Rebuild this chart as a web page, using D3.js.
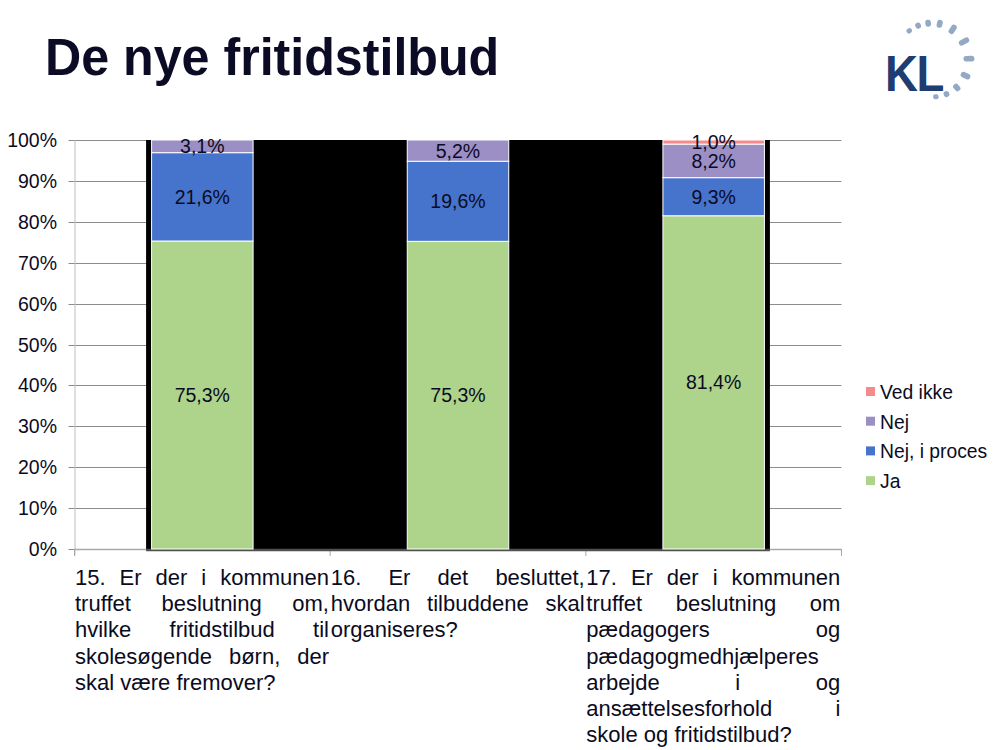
<!DOCTYPE html>
<html><head><meta charset="utf-8">
<script src="https://cdn.jsdelivr.net/npm/d3@7"></script>
<style>
body{margin:0;background:#fff;}
svg{display:block;font-family:"Liberation Sans",Arial,sans-serif;}
</style></head>
<body>
<svg id="c" width="1000" height="750"></svg>
<script>
// ---- data ----
const title = "De nye fritidstilbud";
const categories = [
  "15. Er der i kommunen\ntruffet beslutning om,\nhvilke fritidstilbud til\nskolesøgende børn, der\nskal være fremover?",
  "16. Er det besluttet,\nhvordan tilbuddene skal\norganiseres?",
  "17. Er der i kommunen\ntruffet beslutning om\npædagogers og\npædagogmedhjælperes\narbejde i og\nansættelsesforhold i\nskole og fritidstilbud?"
];
const seriesNames = ["Ja", "Nej, i proces", "Nej", "Ved ikke"];
const seriesColors = ["#AED38B", "#4673CB", "#9B8FC6", "#F48A8E"];
const ja = [75.3, 75.3, 81.4];
const nejProces = [21.6, 19.6, 9.3];
const nej = [3.1, 5.2, 8.2];
const vedIkke = [0, 0, 1.0];
const yTickValues = [0, 10, 20, 30, 40, 50, 60, 70, 80, 90, 100];
const yTickLabels = ["0%", "10%", "20%", "30%", "40%", "50%", "60%", "70%", "80%", "90%", "100%"];

const seriesValues = [ja, nejProces, nej, vedIkke];

const svg = d3.select("#c");
const M = {left: 74.5, right: 841.5, top: 140, bottom: 549};
const ink = "#0b0b1e";

// title
svg.append("text").attr("x", 45).attr("y", 75)
  .attr("font-size", 52).attr("font-weight", "bold").attr("fill", "#0b0b26")
  .attr("transform", "translate(45,75) scale(0.965,1) translate(-45,-75)")
  .text(title);

// logo
const logo = svg.append("g");
logo.append("text").attr("x", 885).attr("y", 91).attr("font-size", 48)
  .attr("font-weight", "bold").attr("fill", "#203c70").attr("letter-spacing", -1.5)
  .attr("transform", "translate(885,91) scale(0.95,1.05) translate(-885,-91)")
  .text("KL");
const dashAngles = [-38, -22, -6, 12, 34, 60, 88, 115, 138, 157, 174];
const dashSizes  = [5, 6, 7, 8, 10, 11, 11, 10, 8, 6, 5];
const cx = 932, cy = 60, R = 37;
dashAngles.forEach((a, i) => {
  const rad = (a - 90) * Math.PI / 180;
  const px = cx + R * Math.cos(rad), py = cy + R * Math.sin(rad);
  logo.append("rect").attr("x", -2.8).attr("y", -dashSizes[i] / 2)
    .attr("width", 5.6).attr("height", dashSizes[i]).attr("rx", 2.6)
    .attr("fill", "#94a9c3")
    .attr("transform", `translate(${px},${py}) rotate(${a})`);
});

// scales
const x = d3.scaleBand().domain(d3.range(categories.length)).range([M.left, M.right]);
const y = d3.scaleLinear().domain([0, 100]).range([M.bottom, M.top]);

// gridlines
svg.append("g").selectAll("line").data(yTickValues).join("line")
  .attr("x1", M.left - 6).attr("x2", M.right)
  .attr("y1", d => Math.round(y(d)) + 0.5).attr("y2", d => Math.round(y(d)) + 0.5)
  .attr("stroke", "#8c8c8c").attr("stroke-width", 1);

// y axis line
svg.append("line").attr("x1", M.left + 0.5).attr("x2", M.left + 0.5)
  .attr("y1", M.top).attr("y2", M.bottom + 6).attr("stroke", "#bdbdbd");

// tick labels
svg.append("g").selectAll("text").data(yTickValues).join("text")
  .attr("x", 57).attr("y", d => y(d) + 7).attr("text-anchor", "end")
  .attr("font-size", 19.5).attr("fill", ink)
  .text((d, i) => yTickLabels[i]);

// bottom axis
svg.append("line").attr("x1", M.left).attr("x2", M.right)
  .attr("y1", M.bottom + 0.5).attr("y2", M.bottom + 0.5).attr("stroke", "#a8a8a8").attr("stroke-width", 1.5);
svg.append("g").selectAll("line").data(d3.range(categories.length + 1)).join("line")
  .attr("x1", i => i < categories.length ? x(i) : M.right)
  .attr("x2", i => i < categories.length ? x(i) : M.right)
  .attr("y1", M.bottom).attr("y2", M.bottom + 7).attr("stroke", "#a8a8a8");

// bar geometry
const barW = x.bandwidth() * 0.397;
const barX = i => x(i) + (x.bandwidth() - barW) / 2;

// black backdrop spanning the bars
svg.append("rect")
  .attr("x", barX(0) - 5.5).attr("y", M.top)
  .attr("width", barX(categories.length - 1) + barW + 5.5 - (barX(0) - 5.5))
  .attr("height", M.bottom - M.top).attr("fill", "#000");
svg.append("line")
  .attr("x1", barX(0) - 5.5).attr("x2", barX(categories.length - 1) + barW + 5.5)
  .attr("y1", M.bottom + 1).attr("y2", M.bottom + 1).attr("stroke", "#505050").attr("stroke-width", 2.5);

// stacked data (normalized to 100%)
const rows = categories.map((c, i) => {
  const vals = seriesValues.map(s => s[i]);
  const tot = d3.sum(vals);
  const o = {i};
  seriesNames.forEach((n, k) => { o[n] = vals[k] / tot * 100; });
  return o;
});
const stack = d3.stack().keys(seriesNames)(rows);
const fmt = v => d3.format(".1f")(v).replace(".", ",") + "%";

stack.forEach((layer, k) => {
  const g = svg.append("g");
  g.selectAll("rect").data(layer).join("rect")
    .attr("x", (d, i) => barX(i)).attr("width", barW)
    .attr("y", d => y(d[1])).attr("height", d => Math.max(0, y(d[0]) - y(d[1])))
    .attr("fill", seriesColors[k]).attr("stroke", "#ffffff").attr("stroke-width", 1)
    .attr("display", (d, i) => seriesValues[k][i] > 0 ? null : "none");
  g.selectAll("text").data(layer).join("text")
    .attr("x", (d, i) => barX(i) + barW / 2)
    .attr("y", d => y((d[0] + d[1]) / 2) + 7)
    .attr("text-anchor", "middle").attr("font-size", 19.5).attr("fill", ink)
    .attr("display", (d, i) => seriesValues[k][i] > 0 ? null : "none")
    .text((d, i) => fmt(seriesValues[k][i]));
});

// category labels (justified)
const lineH = 26.2, W = 254, catFont = 22;
categories.forEach((cat, i) => {
  const lines = cat.split("\n");
  const left = x(i) + 0.5;
  lines.forEach((ln, li) => {
    const words = ln.split(" ");
    const by = 585 + li * lineH;
    const last = li === lines.length - 1;
    const ts = words.map(w => svg.append("text").attr("y", by).attr("font-size", catFont)
      .attr("fill", ink).text(w));
    const widths = ts.map(t => t.node().getComputedTextLength());
    let gap = catFont * 0.278;
    if (!last && words.length > 1) gap = (W - d3.sum(widths)) / (words.length - 1);
    let cx2 = left;
    ts.forEach((t, k) => { t.attr("x", cx2); cx2 += widths[k] + gap; });
  });
});

// legend
const legOrder = [3, 2, 1, 0];
legOrder.forEach((k, j) => {
  const ly = 392 + j * 29.7;
  svg.append("rect").attr("x", 866).attr("y", ly - 5).attr("width", 9).attr("height", 9)
    .attr("fill", seriesColors[k]);
  svg.append("text").attr("x", 880).attr("y", ly + 7).attr("font-size", 19.3)
    .attr("fill", ink).text(seriesNames[k]);
});
</script>
</body></html>
